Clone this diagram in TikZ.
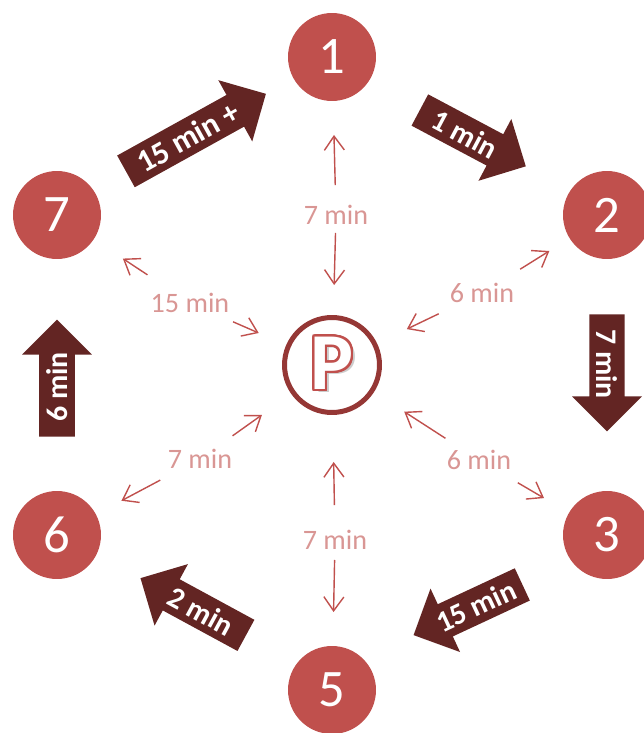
\documentclass[tikz,border=0pt]{standalone}
\usepackage{fontspec}
\setmainfont{Carlito}
\usepackage{contour}
\usetikzlibrary{arrows.meta,shapes.arrows}
\definecolor{StopRed}{HTML}{C0504D}
\definecolor{StopDark}{HTML}{632523}
\definecolor{StopRing}{HTML}{953735}
\definecolor{StopPink}{HTML}{D99694}
\contourlength{1.3pt}
\contournumber{32}

\begin{document}
\begin{tikzpicture}[x=0.02cm,y=-0.02cm,
  stop/.style={circle,fill=StopRed,minimum size=1.76cm,inner sep=0pt,text=white,font=\fontsize{30}{30}\selectfont},
  park/.style={circle,draw=StopRing,line width=0.1cm,fill=white,minimum size=1.9cm,inner sep=0pt},
  leg/.style={single arrow,fill=StopDark,text=white,font=\bfseries\fontsize{17}{17}\selectfont,minimum width=1.4cm,single arrow head extend=0.3cm,minimum height=2.4cm,inner ysep=2.6pt,inner xsep=2pt},
  time/.style={text=StopPink,font=\fontsize{16}{16}\selectfont,inner sep=0pt},
  link/.style={draw=StopRed,line width=0.8pt,-{Straight Barb[length=2.8mm,width=4mm]}}
]
\useasboundingbox (0,0) rectangle (643,733);
% stops round the park
\node[stop] (s1) at (332,57) {1};
\node[stop] (s2) at (607,215) {2};
\node[stop] (s3) at (607,535) {3};
\node[stop] (s5) at (332,690) {5};
\node[stop] (s6) at (57,535) {6};
\node[stop] (s7) at (57,215) {7};
\node[park] (p) at (332,365) {\bfseries\fontsize{46}{46}\selectfont\rlap{\kern2pt\raisebox{-2pt}{\textcolor{black!20}{P}}}\contour{StopRed}{\textcolor{white}{P}}};
% walking times to the park
\node[time] (t1) at (336,215) {7 min};
\node[time] (t2) at (482,293) {6 min};
\node[time] (t3) at (479,460) {6 min};
\node[time] (t5) at (335,540) {7 min};
\node[time] (t6) at (200,459) {7 min};
\node[time] (t7) at (190,303) {15 min};
\draw[link,shorten <=0.6cm,shorten >=1.56cm] (t1.center) -- (s1.center);
\draw[link,shorten <=0.36cm,shorten >=1.6cm] (t1.center) -- (p.center);
\draw[link,shorten <=0.9cm,shorten >=1.36cm] (t2.center) -- (s2.center);
\draw[link,shorten <=0.96cm,shorten >=1.66cm] (t2.center) -- (p.center);
\draw[link,shorten <=0.9cm,shorten >=1.46cm] (t3.center) -- (s3.center);
\draw[link,shorten <=0.8cm,shorten >=1.72cm] (t3.center) -- (p.center);
\draw[link,shorten <=0.4cm,shorten >=1.56cm] (t5.center) -- (s5.center);
\draw[link,shorten <=0.7cm,shorten >=1.94cm] (t5.center) -- (p.center);
\draw[link,shorten <=0.9cm,shorten >=1.46cm] (t6.center) -- (s6.center);
\draw[link,shorten <=0.8cm,shorten >=1.72cm] (t6.center) -- (p.center);
\draw[link,shorten <=1.02cm,shorten >=1.58cm] (t7.center) -- (s7.center);
\draw[link,shorten <=0.94cm,shorten >=1.6cm] (t7.center) -- (p.center);
% legs of the tour
\node[leg,minimum height=3.2cm,font=\bfseries\fontsize{18}{18}\selectfont,rotate=29] (l71) at (188,137) {15 min +};
\node[leg,rotate=-28] (l12) at (465,134) {1 min};
\node[leg,minimum height=2.34cm,rotate=-90] (l23) at (607,364) {7 min};
\node[leg,rotate=25,shape border rotate=180] (l35) at (476,606) {15 min};
\node[leg,rotate=-28.5,shape border rotate=180] (l56) at (201,611) {2 min};
\node[leg,minimum height=2.34cm,rotate=90] (l67) at (57,387) {6 min};
\end{tikzpicture}
\end{document}
